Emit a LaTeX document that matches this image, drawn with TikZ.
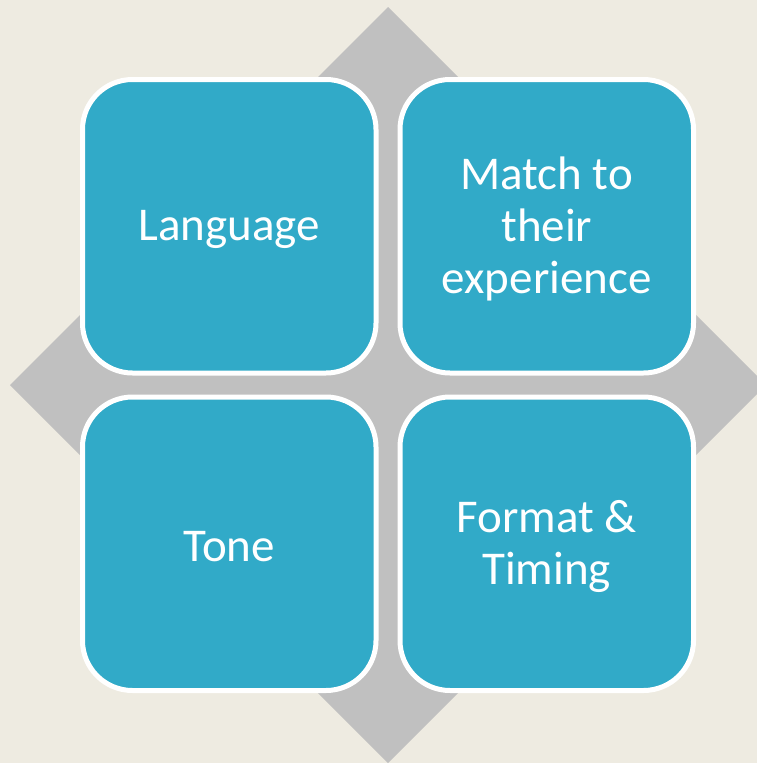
\documentclass[tikz,border=0pt]{standalone}
\usepackage{fontspec}
\setmainfont{Carlito}
\definecolor{paper}{HTML}{EEEBE1}
\definecolor{diamondgray}{HTML}{C0C0C0}
\definecolor{tileblue}{HTML}{31AAC8}
\begin{document}
\begin{tikzpicture}[x=1pt,y=-1pt,
  tile/.style={rectangle, rounded corners=50pt, draw=white, line width=5pt,
    fill=tileblue, minimum width=293.5pt, minimum height=293.5pt,
    inner sep=0pt},
  tiletext/.style={inner sep=0pt, align=center, text=white, yshift=-3pt,
    font=\fontsize{47}{52}\selectfont}]
  % canvas
  \fill[paper] (0,0) rectangle (757,763);
  \useasboundingbox (0,0) rectangle (757,763);
  % grey diamond behind the tiles
  \begin{scope}
    \clip (0,0) rectangle (757,763);
    \fill[diamondgray] (388,7) -- (766,385) -- (388,763) -- (10,385) -- cycle;
  \end{scope}
  % four tiles
  \node[tile] (lang)   at (229.25,226.25) {};
  \node[tile] (match)  at (546.75,226.25) {};
  \node[tile] (tone)   at (229.25,543.75) {};
  \node[tile] (format) at (546.75,543.75) {};
  % tile captions
  \node[tiletext] (langtext)   at (lang.center)   {Language};
  \node[tiletext] (matchtext)  at (match.center)  {Match to\\their\\experience};
  \node[tiletext] (tonetext)   at (tone.center)   {Tone};
  \node[tiletext] (formattext) at (format.center) {Format \&\\Timing};
\end{tikzpicture}
\end{document}
